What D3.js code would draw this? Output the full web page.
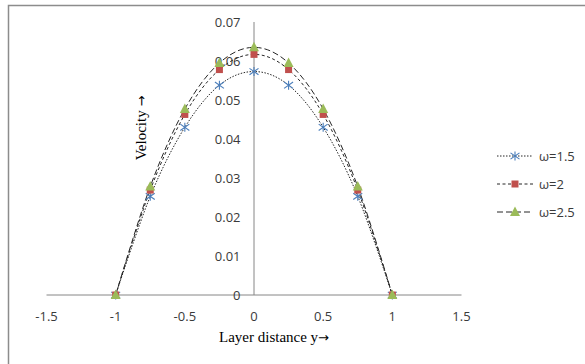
<!DOCTYPE html>
<html><head><meta charset="utf-8">
<script src="https://cdn.jsdelivr.net/npm/d3@7"></script>
<style>body{margin:0;background:#fff}svg{display:block}</style>
</head><body><svg id="c" width="585" height="364"></svg>
<script>
const yPos = [-1, -0.75, -0.5, -0.25, 0, 0.25, 0.5, 0.75, 1];
const w15 = [0, 0.0253, 0.0430, 0.0538, 0.0573, 0.0538, 0.0430, 0.0253, 0];
const w20 = [0, 0.0269, 0.0463, 0.0578, 0.0617, 0.0578, 0.0463, 0.0269, 0];
const w25 = [0, 0.0278, 0.0477, 0.0595, 0.0635, 0.0595, 0.0477, 0.0278, 0];
const seriesNames = ["ω=1.5", "ω=2", "ω=2.5"];
const xTicks = [-1.5, -1, -0.5, 0, 0.5, 1, 1.5];
const yTicks = [0, 0.01, 0.02, 0.03, 0.04, 0.05, 0.06, 0.07];

const svg = d3.select("#c");
svg.append("rect").attr("x", 8.5).attr("y", 5.5).attr("width", 590).attr("height", 380)
  .attr("fill", "#fff").attr("stroke", "#8c8c8c").attr("stroke-width", 1.5);

const x = d3.scaleLinear().domain([-1.5, 1.5]).range([46.5, 461.5]);
const y = d3.scaleLinear().domain([0, 0.07]).range([295, 22]);

svg.append("line").attr("x1", x(-1.5)).attr("x2", x(1.5)).attr("y1", y(0)).attr("y2", y(0))
  .attr("stroke", "#868686").attr("stroke-width", 1);
svg.append("line").attr("x1", x(0)).attr("x2", x(0)).attr("y1", y(0.07)).attr("y2", y(0))
  .attr("stroke", "#868686").attr("stroke-width", 1);

const tickFont = "'Open Sans', 'Liberation Sans', sans-serif";
const tickSize = 13;
svg.append("g").selectAll("text").data(xTicks).join("text")
  .attr("x", d => x(d)).attr("y", 320.5).attr("text-anchor", "middle")
  .attr("font-family", tickFont).attr("font-size", tickSize).attr("fill", "#3a3a3a")
  .text(d => String(d));
svg.append("g").selectAll("text").data(yTicks).join("text")
  .attr("x", 240.5).attr("y", d => y(d) + 5).attr("text-anchor", "end")
  .attr("font-family", tickFont).attr("font-size", tickSize).attr("fill", "#3a3a3a")
  .text(d => d === 0 ? "0" : d.toFixed(2));

const serif = "'Liberation Serif', 'Times New Roman', serif";
const xt = svg.append("text").attr("x", 274).attr("y", 341.5).attr("text-anchor", "middle")
  .attr("font-family", serif).attr("font-size", 15).attr("fill", "#000");
xt.append("tspan").text("Layer distance y");
xt.append("tspan").attr("font-family", "'DejaVu Sans', sans-serif").attr("font-size", 13).text("→");
const yt = svg.append("text").attr("transform", "translate(145.5,128) rotate(-90)").attr("text-anchor", "middle")
  .attr("font-family", serif).attr("font-size", 15).attr("fill", "#000");
yt.append("tspan").text("Velocity ");
yt.append("tspan").attr("font-family", "'DejaVu Sans', sans-serif").attr("font-size", 13).text("→");

const series = [
  {name: seriesNames[0], vals: w15, dash: "1.5,1.5", marker: "star"},
  {name: seriesNames[1], vals: w20, dash: "3,2.5", marker: "square"},
  {name: seriesNames[2], vals: w25, dash: "6,3", marker: "tri"}
];

const line = d3.line().x(d => x(d[0])).y(d => y(d[1])).curve(d3.curveCardinal.tension(0));

function drawMarker(g, kind, cx, cy) {
  if (kind === "star") {
    const r = 4.5;
    const p = g.append("g").attr("stroke", "#4a7ebb").attr("stroke-width", 1.1).attr("fill", "none");
    p.append("line").attr("x1", cx - r).attr("y1", cy - r * 0.7).attr("x2", cx + r).attr("y2", cy + r * 0.7);
    p.append("line").attr("x1", cx - r).attr("y1", cy + r * 0.7).attr("x2", cx + r).attr("y2", cy - r * 0.7);
    p.append("line").attr("x1", cx).attr("y1", cy - r).attr("x2", cx).attr("y2", cy + r);
  } else if (kind === "square") {
    g.append("rect").attr("x", cx - 3.5).attr("y", cy - 3.5).attr("width", 7).attr("height", 7)
      .attr("fill", "#c0504d");
  } else {
    const s = 10;
    g.append("path").attr("d", `M${cx},${cy - s * 0.55}L${cx + s / 2},${cy + s * 0.4}L${cx - s / 2},${cy + s * 0.4}Z`)
      .attr("fill", "#9bbb59");
  }
}

series.forEach(s => {
  const pts = yPos.map((v, i) => [v, s.vals[i]]);
  svg.append("path").attr("d", line(pts)).attr("fill", "none")
    .attr("stroke", "#262626").attr("stroke-width", 1).attr("stroke-dasharray", s.dash);
});
series.forEach(s => {
  const g = svg.append("g");
  yPos.forEach((v, i) => drawMarker(g, s.marker, x(v), y(s.vals[i])));
});

const legY = [156, 184, 212];
series.forEach((s, i) => {
  const g = svg.append("g");
  g.append("line").attr("x1", 497).attr("x2", 533).attr("y1", legY[i]).attr("y2", legY[i])
    .attr("stroke", "#262626").attr("stroke-width", 1).attr("stroke-dasharray", s.dash);
  drawMarker(g, s.marker, 515, legY[i]);
  g.append("text").attr("x", 539).attr("y", legY[i] + 5)
    .attr("font-family", tickFont).attr("font-size", tickSize).attr("fill", "#3a3a3a").text(s.name);
});
</script></body></html>
